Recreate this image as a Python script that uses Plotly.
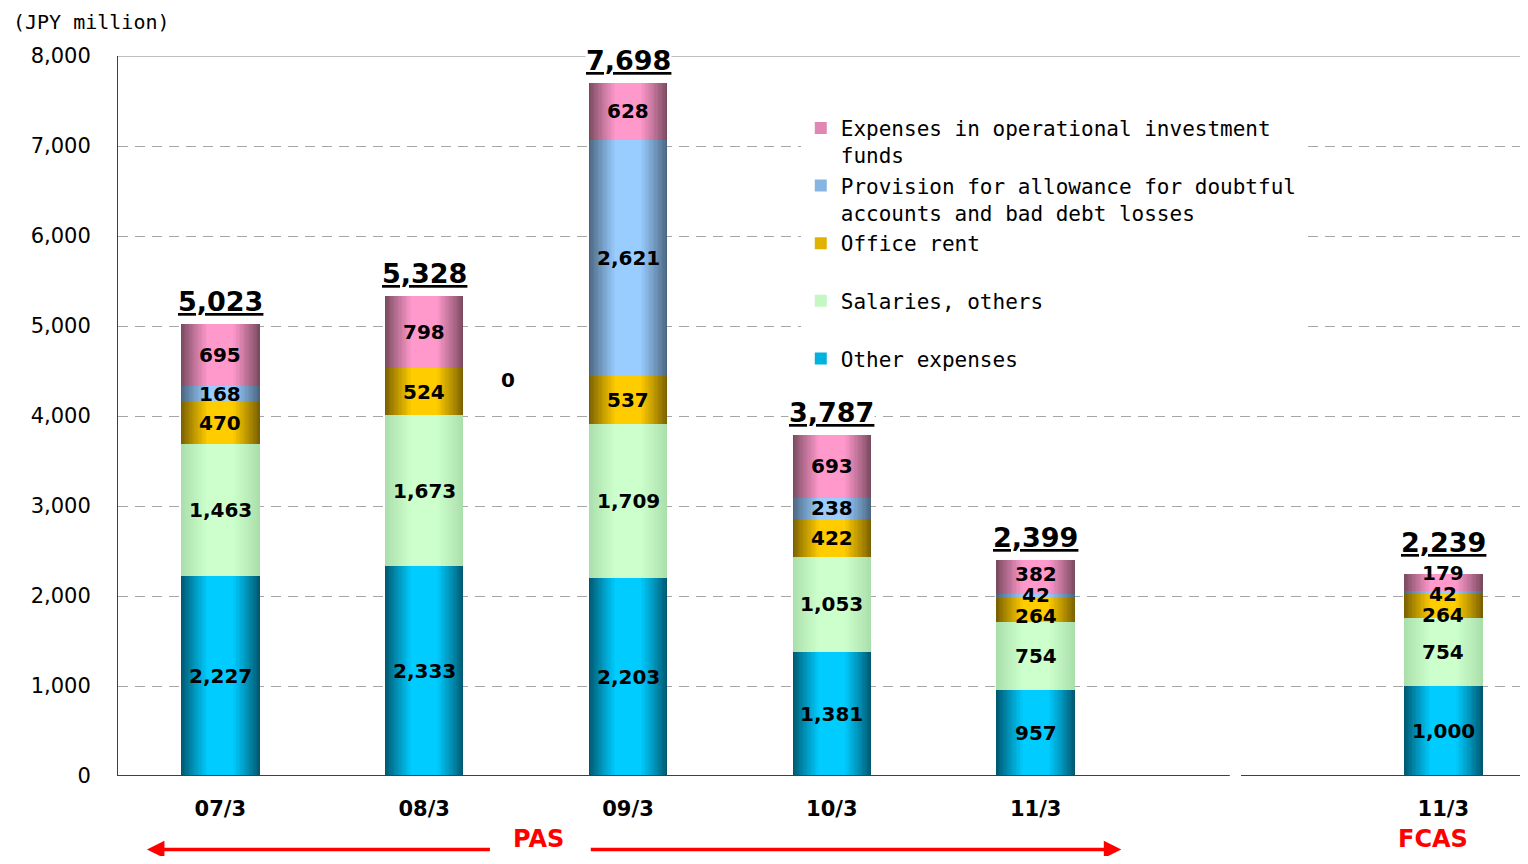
import plotly.graph_objects as go
import numpy as np

# data (JPY million)
categories = ['07/3', '08/3', '09/3', '10/3', '11/3', '11/3']
x_pos = [0, 1, 2, 3, 4, 6]
other_expenses = [2227, 2333, 2203, 1381, 957, 1000]
salaries = [1463, 1673, 1709, 1053, 754, 754]
office_rent = [470, 524, 537, 422, 264, 264]
provision = [168, 0, 2621, 238, 42, 42]
fund_expenses = [695, 798, 628, 693, 382, 179]
totals = [5023, 5328, 7698, 3787, 2399, 2239]

SERIES = [
    # name, values, dark edge, bright centre, legend rank
    ('Other expenses', other_expenses, (0, 88, 112), (0, 204, 255), 5),
    ('Salaries, others<br> ', salaries, (170, 222, 170), (204, 255, 204), 4),
    ('Office rent<br> ', office_rent, (122, 96, 0), (255, 204, 0), 3),
    ('Provision for allowance for doubtful<br>accounts and bad debt losses', provision,
     (74, 102, 128), (153, 204, 255), 2),
    ('Expenses in operational investment<br>funds', fund_expenses, (122, 74, 96), (255, 153, 204), 1),
]

FONT = 'DejaVu Sans'
MONO = 'DejaVu Sans Mono'
BAR_W = 0.385
N_LAYERS = 30
PLOT_H = 720
Y_MAX = 8000
PX_PER_UNIT = PLOT_H / Y_MAX
MIN_GAP = 21  # px between stacked value labels


def mix(c1, c2, t):
    return 'rgb(%d,%d,%d)' % tuple(round(a + (b - a) * t) for a, b in zip(c1, c2))


fig = go.Figure()

base = np.zeros(len(x_pos))
labels = {i: [] for i in range(len(x_pos))}
zero_labels = []
for name, vals, dark, bright, rank in SERIES:
    vals = np.array(vals, dtype=float)
    # fake horizontal gradient: narrower, brighter bars laid over each other
    for k in range(N_LAYERS):
        u = k / N_LAYERS
        t = min(1.0, u * 1.5) ** 0.9
        fig.add_trace(go.Bar(
            x=x_pos, y=vals, base=base,
            width=BAR_W * (1 - u),
            marker=dict(color=mix(dark, bright, t), line_width=0),
            name=name, legendgroup=name, legendrank=rank,
            showlegend=(k == N_LAYERS // 2),
            hoverinfo='skip',
        ))
    for i, v in enumerate(vals):
        if v > 0:
            labels[i].append([base[i] + v / 2, f'{int(v):,}'])
        else:
            zero_labels.append((x_pos[i], base[i]))
    base = base + vals

annotations = []

# value labels, spread apart where segments are too thin
top_label_px = {}
for i, items in labels.items():
    orig = [y * PX_PER_UNIT for y, _ in items]
    pos = list(orig)
    for _ in range(100):
        for j in range(len(pos) - 1):
            gap = pos[j + 1] - pos[j]
            if gap < MIN_GAP:
                d = (MIN_GAP - gap) / 2
                pos[j] -= d
                pos[j + 1] += d
    top_label_px[i] = pos[-1]
    for (y, txt), p0, p in zip(items, orig, pos):
        annotations.append(dict(
            x=x_pos[i], y=y, text=txt, showarrow=False, yshift=p - p0,
            font=dict(family=FONT, size=20, color='black', weight='bold'),
        ))

for i, (xp, tot) in enumerate(zip(x_pos, totals)):
    shift = max(6, top_label_px[i] + 14 - tot * PX_PER_UNIT)
    annotations.append(dict(
        x=xp, y=tot, text=f'{tot:,}', showarrow=False, yanchor='bottom', yshift=shift,
        bgcolor='white', borderpad=0,
        font=dict(family=FONT, size=27, color='black', weight='bold', lineposition='under'),
    ))
for xp, b in zero_labels:
    annotations.append(dict(
        x=xp + 0.41, y=b, text='0', showarrow=False, yshift=-12,
        font=dict(family=FONT, size=20, color='black', weight='bold'),
    ))

# unit label
annotations.append(dict(
    x=-0.076, y=1.047, xref='paper', yref='paper', text='(JPY million)', showarrow=False,
    xanchor='left', yanchor='middle', font=dict(family=MONO, size=20, color='black'),
))

# PAS / FCAS captions with arrows
annotations += [
    dict(x=1.56, y=-0.087, xref='x', yref='paper', text='PAS', showarrow=False,
         yanchor='middle', borderpad=0,
         font=dict(family=FONT, size=24, color='#FF0000', weight='bold')),
    dict(x=5.95, y=-0.087, xref='x', yref='paper', text='FCAS', showarrow=False,
         yanchor='middle', borderpad=0,
         font=dict(family=FONT, size=24, color='#FF0000', weight='bold')),
    dict(x=-0.36, y=-0.102, xref='x', yref='paper', ax=1.33, ay=0, axref='x', ayref='pixel',
         text='', showarrow=True, arrowhead=2, arrowsize=1, arrowwidth=3.5, arrowcolor='#FF0000'),
    dict(x=4.42, y=-0.102, xref='x', yref='paper', ax=1.81, ay=0, axref='x', ayref='pixel',
         text='', showarrow=True, arrowhead=2, arrowsize=1, arrowwidth=3.5, arrowcolor='#FF0000'),
]

shapes = [
    # x axis line, broken between the PAS and FCAS parts
    dict(type='line', xref='paper', yref='y', x0=0, x1=0.793, y0=0, y1=0,
         line=dict(color='#404040', width=2)),
    dict(type='line', xref='paper', yref='y', x0=0.801, x1=1, y0=0, y1=0,
         line=dict(color='#404040', width=2)),
    dict(type='line', xref='paper', yref='y', x0=0, x1=1, y0=Y_MAX, y1=Y_MAX,
         line=dict(color='#808080', width=1), layer='below'),
]

# the page body has an 8px margin, so the figure is sized to fit inside the window
fig.update_layout(
    width=1512, height=848,
    barmode='overlay',
    paper_bgcolor='white', plot_bgcolor='white',
    margin=dict(l=110, r=0, t=48, b=80, autoexpand=False),
    font=dict(family=FONT, color='black'),
    showlegend=True,
    legend=dict(
        x=0.487, y=0.928, xanchor='left', yanchor='top',
        bgcolor='white', font=dict(family=MONO, size=21, color='black'),
        traceorder='grouped', tracegroupgap=0, valign='top',
        itemwidth=30,
    ),
    xaxis=dict(
        range=[-0.502, 6.376], tickvals=x_pos, ticktext=categories,
        showgrid=False, zeroline=False, showline=False, automargin=False,
        tickfont=dict(family=FONT, size=21, color='black', weight='bold'),
        ticklabelstandoff=18,
    ),
    yaxis=dict(
        range=[0, Y_MAX], dtick=1000, tickformat=',d', automargin=False,
        showgrid=True, gridcolor='#A6A6A6', griddash='10px,7px', gridwidth=1,
        zeroline=False, showline=True, linecolor='#404040', linewidth=1,
        tickfont=dict(family=FONT, size=21, color='black'),
        ticklabelstandoff=22,
    ),
    annotations=annotations,
    shapes=shapes,
    bargap=0,
)

fig.write_html('out.html')
